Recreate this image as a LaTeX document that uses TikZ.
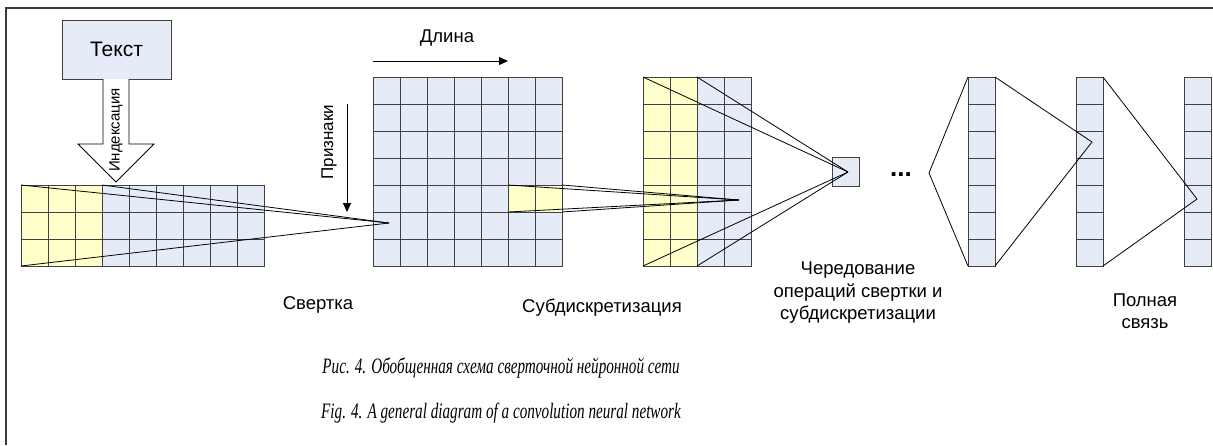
\documentclass[tikz,border=0pt]{standalone}
\usepackage{fontspec}
\setmainfont{Liberation Sans}
\newfontfamily\capfont{Liberation Serif}
\usetikzlibrary{arrows.meta}
\definecolor{cellblue}{RGB}{230,236,247}
\definecolor{cellyel}{RGB}{255,255,204}
\definecolor{gridgray}{RGB}{64,64,64}
\definecolor{framegray}{RGB}{60,60,60}
\tikzset{
  gridbox/.style={draw=gridgray, fill=cellblue, line width=1pt, inner sep=0, outer sep=0, anchor=north west},
  gridline/.style={draw=gridgray, line width=1pt},
  conn/.style={draw=black, line width=0.8pt},
  lbl/.style={font=\fontsize{18.5}{22.5}\selectfont, align=center, inner sep=0},
  capstyle/.style={font=\capfont\itshape\fontsize{22}{26}\selectfont, inner sep=0, anchor=base},
  dirarrow/.style={draw=black, line width=0.9pt, -{Triangle[length=9pt,width=8pt]}},
}
\begin{document}
\begin{tikzpicture}[x=1pt,y=-1pt]
\useasboundingbox (0,0) rectangle (1213,445);
% frame
\draw[draw=framegray, line width=1.5pt] (1213,8) -- (6,8) -- (6,445);

% text box and indexing arrow
\node[draw=gridgray, fill=cellblue, line width=1pt, minimum width=109pt, minimum height=59pt, inner sep=0,
      font=\fontsize{21}{25}\selectfont] (txt) at (116.5,49.5) {Текст};
\coordinate (ia1) at (103,79);
\coordinate (ia2) at (103,144);
\coordinate (ia3) at (78,144);
\coordinate (iatip) at (116,182);
\coordinate (ia5) at (154,144);
\coordinate (ia6) at (129,144);
\coordinate (ia7) at (129,79);
\draw[fill=white, draw=black, line width=0.9pt] (ia1) -- (ia2) -- (ia3) -- (iatip) -- (ia5) -- (ia6) -- (ia7);
\node[rotate=90, font=\fontsize{15}{18}\selectfont, inner sep=0] (idx) at (116,130) {Индексация};

% left grid 9x3
\node[gridbox, minimum width=243pt, minimum height=81pt] (g1) at (21,185) {};
\fill[cellyel] (21,185) rectangle (102,266);
\foreach \i in {1,...,8} \draw[gridline] (21+\i*27,185) -- (21+\i*27,266);
\foreach \j in {1,2} \draw[gridline] (21,185+\j*27) -- (264,185+\j*27);
\draw[gridline] (g1.north west) rectangle (g1.south east);

% middle grid 7x7
\node[gridbox, minimum width=189pt, minimum height=189pt] (g2) at (373,77) {};
\fill[cellyel] (508,185) rectangle (562,212);
\foreach \i in {1,...,6} \draw[gridline] (373+\i*27,77) -- (373+\i*27,266);
\foreach \j in {1,...,6} \draw[gridline] (373,77+\j*27) -- (562,77+\j*27);
\draw[gridline] (g2.north west) rectangle (g2.south east);

% subsampling grid 4x7
\node[gridbox, minimum width=108pt, minimum height=189pt] (g3) at (643,77) {};
\fill[cellyel] (643,77) rectangle (697,266);
\foreach \i in {1,2,3} \draw[gridline] (643+\i*27,77) -- (643+\i*27,266);
\foreach \j in {1,...,6} \draw[gridline] (643,77+\j*27) -- (751,77+\j*27);
\draw[gridline] (g3.north west) rectangle (g3.south east);

% small square
\node[gridbox, minimum width=27pt, minimum height=29pt] (sq) at (832,157) {};

% strips
\foreach \n/\x in {s1/968, s2/1076, s3/1184} {
  \node[gridbox, minimum width=27pt, minimum height=189pt] (\n) at (\x,77) {};
  \foreach \j in {1,...,6} \draw[gridline] (\x,77+\j*27) -- (\x+27,77+\j*27);
}

% labels and direction arrows
\node[lbl] (dl) at (447,38) {Длина};
\coordinate (dla) at (373,61);
\coordinate (dlb) at (508,61);
\draw[dirarrow] (dla) -- (dlb);
\node[rotate=90, font=\fontsize{17}{20}\selectfont, inner sep=0] (pr) at (329,142) {Признаки};
\coordinate (pra) at (347,104);
\coordinate (prb) at (347,212);
\draw[dirarrow] (pra) -- (prb);

% converging lines
\coordinate (tipL) at (389,223);
\coordinate (tipM) at (739,200);
\coordinate (tipQ) at (848,172);
\coordinate (tipC) at (929,173);
\coordinate (tip2) at (1092,142);
\coordinate (tip3) at (1197,199);
\draw[conn] (g1.north west) -- (tipL);
\draw[conn] ([xshift=81pt]g1.north west) -- (tipL);
\draw[conn] (g1.south west) -- (tipL);
\coordinate (p1) at (508,185);
\coordinate (p2) at (562,185);
\coordinate (p3) at (508,212);
\coordinate (p4) at (562,212);
\draw[conn] (p1) -- (tipM);
\draw[conn] (p2) -- (tipM);
\draw[conn] (p3) -- (tipM);
\draw[conn] (p4) -- (tipM);
\draw[conn] (g3.north west) -- (tipQ);
\draw[conn] ([xshift=54pt]g3.north west) -- (tipQ);
\draw[conn] (g3.south west) -- (tipQ);
\draw[conn] ([xshift=54pt]g3.south west) -- (tipQ);
\draw[conn] (s1.north west) -- (tipC) -- (s1.south west);
\draw[conn] (s1.north east) -- (tip2) -- (s1.south east);
\draw[conn] (s2.north east) -- (tip3) -- (s2.south east);

\node[font=\fontsize{26}{30}\selectfont\bfseries, inner sep=0] (dots) at (901,175) {...};

\node[lbl] (l1) at (318,305) {Свертка};
\node[lbl] (l2) at (602,308) {Субдискретизация};
\node[lbl, align=center] (l3) at (858,293) {Чередование\\операций свертки и\\субдискретизации};
\node[lbl, align=center] (l4) at (1145,311) {Полная\\связь};

\node[capstyle] (c1) at (501,373) {\scalebox{0.69}[1]{Рис. 4. Обобщенная схема сверточной нейронной сети}};
\node[capstyle] (c2) at (501,418) {\scalebox{0.69}[1]{Fig. 4. A general diagram of a convolution neural network}};
\end{tikzpicture}
\end{document}
